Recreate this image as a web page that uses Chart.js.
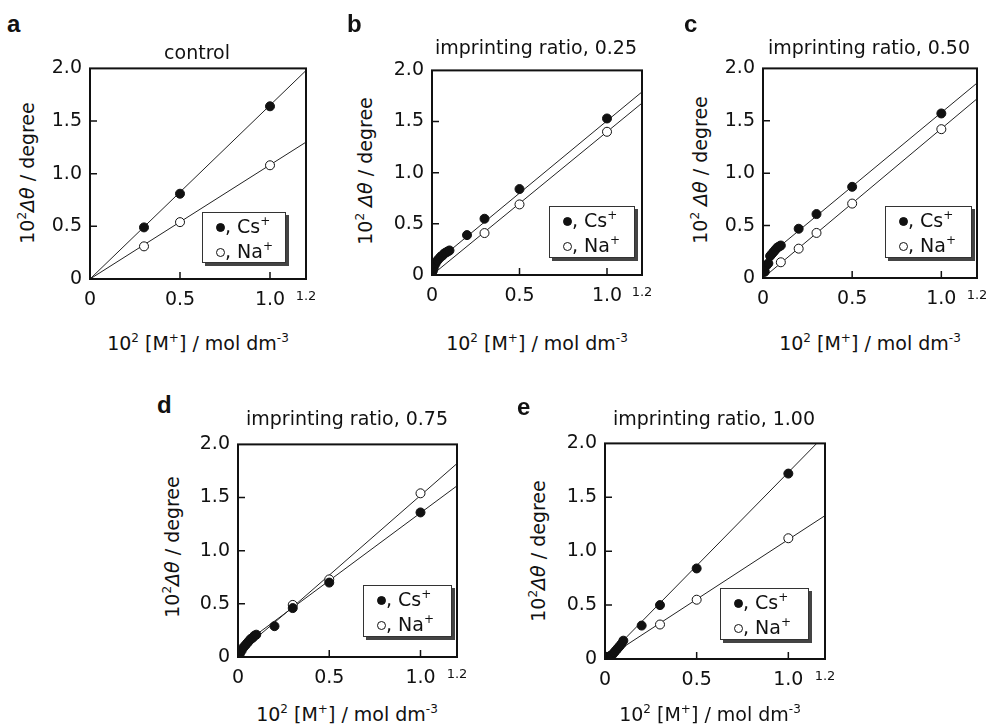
<!DOCTYPE html>
<html>
<head>
<meta charset="utf-8">
<script src="https://cdn.jsdelivr.net/npm/chart.js@4.4.0/dist/chart.umd.min.js"></script>
<style>
  body { margin: 0; background: #fff; }
  #fig { position: relative; width: 987px; height: 726px; overflow: hidden; font-family: "DejaVu Sans", sans-serif; color: #111; }
  #fig canvas { position: absolute; }
  .t { position: absolute; font-size: 19px; line-height: normal; white-space: nowrap; }
  .ctr { transform: translateX(-50%); }
  .ytitle { transform: translate(-50%, -50%) rotate(-90deg); }
  .letter { position: absolute; font: bold 24px "Liberation Sans", Arial, sans-serif; line-height: normal; }
  .sup { font-size: 12px; position: relative; top: -8px; }
  .legend { position: absolute; box-sizing: border-box; border: 1px solid #333; box-shadow: 3px 3px 0 #444; background: #fff;
            font-size: 19px; line-height: 22px; padding: 2px 0 0 13px; white-space: nowrap; }
  .mk { display: inline-block; box-sizing: border-box; width: 9px; height: 9px; border-radius: 50%; border: 1px solid #111; vertical-align: 1px; }
  .mk.full { background: #111; }
</style>
</head>
<body>
<div id="fig"></div>
<script>
// --- ticks ---
const xTickVals = [0, 0.5, 1.0, 1.2];
const xTickLabels = ['0', '0.5', '1.0', '1.2'];
const yTickVals = [0, 0.5, 1.0, 1.5, 2.0];
const yTickLabels = ['0', '0.5', '1.0', '1.5', '2.0'];
const innerTicksX = [0.5, 1.0];
const innerTicksY = [0.5, 1.0, 1.5];

const panelLetters = ['a', 'b', 'c', 'd', 'e'];
const panelTitles = ['control', 'imprinting ratio, 0.25', 'imprinting ratio, 0.50', 'imprinting ratio, 0.75', 'imprinting ratio, 1.00'];

// --- a: control ---
const aCsX = [0.3, 0.5, 1.0];
const aCsY = [0.49, 0.81, 1.64];
const aNaX = [0.3, 0.5, 1.0];
const aNaY = [0.31, 0.54, 1.08];
const aCsFitX = [0, 1.2];
const aCsFitY = [0, 1.98];
const aNaFitX = [0, 1.2];
const aNaFitY = [0, 1.30];

// --- b: 0.25 ---
const bCsX = [0.005, 0.01, 0.02, 0.03, 0.04, 0.05, 0.06, 0.07, 0.08, 0.09, 0.1, 0.2, 0.3, 0.5, 1.0];
const bCsY = [0.04, 0.07, 0.11, 0.14, 0.16, 0.18, 0.19, 0.21, 0.22, 0.23, 0.24, 0.39, 0.55, 0.84, 1.53];
const bNaX = [0.3, 0.5, 1.0];
const bNaY = [0.41, 0.69, 1.40];
const bCsFitX = [0, 0.02, 0.05, 0.1, 1.2];
const bCsFitY = [0.03, 0.10, 0.17, 0.235, 1.79];
const bNaFitX = [0, 1.2];
const bNaFitY = [0, 1.68];

// --- c: 0.50 ---
const cCsX = [0.01, 0.02, 0.03, 0.04, 0.05, 0.06, 0.07, 0.08, 0.09, 0.1, 0.2, 0.3, 0.5, 1.0];
const cCsY = [0.06, 0.12, 0.14, 0.21, 0.23, 0.25, 0.27, 0.29, 0.30, 0.31, 0.47, 0.61, 0.87, 1.57];
const cNaX = [0.1, 0.2, 0.3, 0.5, 1.0];
const cNaY = [0.15, 0.28, 0.43, 0.71, 1.42];
const cCsFitX = [0, 0.02, 0.05, 0.1, 1.2];
const cCsFitY = [0.04, 0.12, 0.22, 0.31, 1.86];
const cNaFitX = [0, 1.2];
const cNaFitY = [0, 1.71];

// --- d: 0.75 ---
const dCsX = [0.01, 0.02, 0.03, 0.04, 0.05, 0.06, 0.07, 0.08, 0.09, 0.1, 0.2, 0.3, 0.5, 1.0];
const dCsY = [0.03, 0.06, 0.09, 0.11, 0.13, 0.15, 0.17, 0.18, 0.20, 0.21, 0.29, 0.46, 0.70, 1.36];
const dNaX = [0.3, 0.5, 1.0];
const dNaY = [0.49, 0.73, 1.54];
const dCsFitX = [0, 0.05, 0.1, 1.2];
const dCsFitY = [0, 0.14, 0.21, 1.61];
const dNaFitX = [0, 0.1, 0.3, 1.2];
const dNaFitY = [0, 0.18, 0.47, 1.82];

// --- e: 1.00 ---
const eCsX = [0.01, 0.02, 0.03, 0.04, 0.05, 0.06, 0.07, 0.08, 0.09, 0.1, 0.2, 0.3, 0.5, 1.0];
const eCsY = [0.02, 0.02, 0.03, 0.04, 0.06, 0.08, 0.10, 0.12, 0.14, 0.17, 0.31, 0.50, 0.84, 1.72];
const eNaX = [0.3, 0.5, 1.0];
const eNaY = [0.32, 0.55, 1.12];
const eCsFitX = [0, 1.155];
const eCsFitY = [0, 2.0];
const eNaFitX = [0, 1.2];
const eNaFitY = [0, 1.33];

const panelData = [
  [aCsX, aCsY, aNaX, aNaY, aCsFitX, aCsFitY, aNaFitX, aNaFitY],
  [bCsX, bCsY, bNaX, bNaY, bCsFitX, bCsFitY, bNaFitX, bNaFitY],
  [cCsX, cCsY, cNaX, cNaY, cCsFitX, cCsFitY, cNaFitX, cNaFitY],
  [dCsX, dCsY, dNaX, dNaY, dCsFitX, dCsFitY, dNaFitX, dNaFitY],
  [eCsX, eCsY, eNaX, eNaY, eCsFitX, eCsFitY, eNaFitX, eNaFitY]
];

// --- placement of each panel (plot box L/T/R/B and the text around it) ---
const layout = [
  { L: 90,  T: 63,  R: 306, B: 279, letter: [7, 10],    title: [197, 41],  xt: [198, 332], yt: [27, 173], leg: [202, 212, 84, 51], ysp: false },
  { L: 432, T: 65,  R: 642, B: 275, letter: [347, 10],  title: [536, 36],  xt: [537, 332], yt: [365, 171], leg: [549, 206, 86, 52], ysp: true },
  { L: 763, T: 63,  R: 977, B: 278, letter: [684, 10],  title: [869, 36],  xt: [870, 332], yt: [700, 170], leg: [885, 206, 87, 52], ysp: true },
  { L: 238, T: 439, R: 457, B: 657, letter: [157, 391], title: [347, 407], xt: [347, 703], yt: [172, 547], leg: [363, 585, 89, 52], ysp: false },
  { L: 605, T: 438, R: 825, B: 659, letter: [517, 393], title: [714, 407], xt: [710, 703], yt: [538, 551], leg: [720, 588, 89, 52], ysp: false }
];

const AXW = 50, AXH = 44, PT = 14, PR = 24;
const FONT = '"DejaVu Sans", sans-serif';
const INK = '#111';

Chart.defaults.font.family = FONT;
Chart.defaults.font.size = 19;
Chart.defaults.color = INK;

// frame + inward tick marks
const framePlugin = {
  id: 'frame',
  afterDraw(chart) {
    const { ctx, chartArea: a, scales: { x, y } } = chart;
    ctx.save();
    ctx.strokeStyle = INK;
    ctx.lineWidth = 2;
    ctx.strokeRect(a.left, a.top, a.right - a.left, a.bottom - a.top);
    ctx.lineWidth = 1.5;
    ctx.beginPath();
    innerTicksX.forEach(v => {
      const px = x.getPixelForValue(v);
      ctx.moveTo(px, a.bottom);
      ctx.lineTo(px, a.bottom - 7);
    });
    innerTicksY.forEach(v => {
      const py = y.getPixelForValue(v);
      ctx.moveTo(a.left, py);
      ctx.lineTo(a.left + 7, py);
    });
    ctx.stroke();
    ctx.restore();
  }
};

const pts = (xs, ys) => xs.map((x, i) => ({ x: x, y: ys[i] }));

const fig = document.getElementById('fig');

function addText(cls, html, left, top) {
  const d = document.createElement('div');
  d.className = cls;
  d.innerHTML = html;
  d.style.left = left + 'px';
  d.style.top = top + 'px';
  fig.appendChild(d);
  return d;
}

layout.forEach((p, i) => {
  const [csX, csY, naX, naY, csFx, csFy, naFx, naFy] = panelData[i];

  const canvas = document.createElement('canvas');
  canvas.width = (p.R - p.L) + AXW + PR;
  canvas.height = (p.B - p.T) + PT + AXH;
  canvas.style.left = (p.L - AXW) + 'px';
  canvas.style.top = (p.T - PT) + 'px';
  fig.appendChild(canvas);

  new Chart(canvas, {
    type: 'scatter',
    data: {
      datasets: [
        { label: 'Cs+', data: pts(csX, csY), pointRadius: 4.5, pointBackgroundColor: INK, pointBorderColor: INK, borderWidth: 1 },
        { label: 'Na+', data: pts(naX, naY), pointRadius: 4.5, pointBackgroundColor: '#fff', pointBorderColor: INK, borderWidth: 1 },
        { label: 'Cs+ fit', data: pts(csFx, csFy), showLine: true, pointRadius: 0, borderColor: '#222', borderWidth: 1, fill: false },
        { label: 'Na+ fit', data: pts(naFx, naFy), showLine: true, pointRadius: 0, borderColor: '#222', borderWidth: 1, fill: false }
      ]
    },
    options: {
      responsive: false,
      animation: false,
      layout: { padding: { left: 0, top: PT, right: PR, bottom: 0 } },
      plugins: { legend: { display: false }, tooltip: { enabled: false } },
      scales: {
        x: {
          type: 'linear', min: 0, max: 1.2,
          grid: { display: false, drawTicks: false },
          border: { display: false },
          afterBuildTicks: s => { s.ticks = xTickVals.map(v => ({ value: v })); },
          afterFit: s => { s.height = AXH; },
          ticks: {
            autoSkip: false, maxRotation: 0, padding: 10,
            callback: (v, idx) => xTickLabels[idx],
            font: c => (c.index === 3 ? { family: FONT, size: 13 } : { family: FONT, size: 19 })
          }
        },
        y: {
          type: 'linear', min: 0, max: 2,
          grid: { display: false, drawTicks: false },
          border: { display: false },
          afterBuildTicks: s => { s.ticks = yTickVals.map(v => ({ value: v })); },
          afterFit: s => { s.width = AXW; },
          ticks: { autoSkip: false, padding: 8, callback: (v, idx) => yTickLabels[idx] }
        }
      }
    },
    plugins: [framePlugin]
  });

  addText('letter', panelLetters[i], p.letter[0], p.letter[1]);
  addText('t ctr', panelTitles[i], p.title[0], p.title[1]);
  addText('t ctr', '10<span class="sup">2</span> [M<span class="sup">+</span>] / mol dm<span class="sup">-3</span>', p.xt[0], p.xt[1]);
  addText('t ytitle', '10<span class="sup">2</span>' + (p.ysp ? ' ' : '') + '<i>Δθ</i> / degree', p.yt[0], p.yt[1]);

  const leg = addText('legend',
    '<div><span class="mk full"></span>, Cs<span class="sup">+</span></div>' +
    '<div><span class="mk"></span>, Na<span class="sup">+</span></div>',
    p.leg[0], p.leg[1]);
  leg.style.width = p.leg[2] + 'px';
  leg.style.height = p.leg[3] + 'px';
});
</script>
</body>
</html>
